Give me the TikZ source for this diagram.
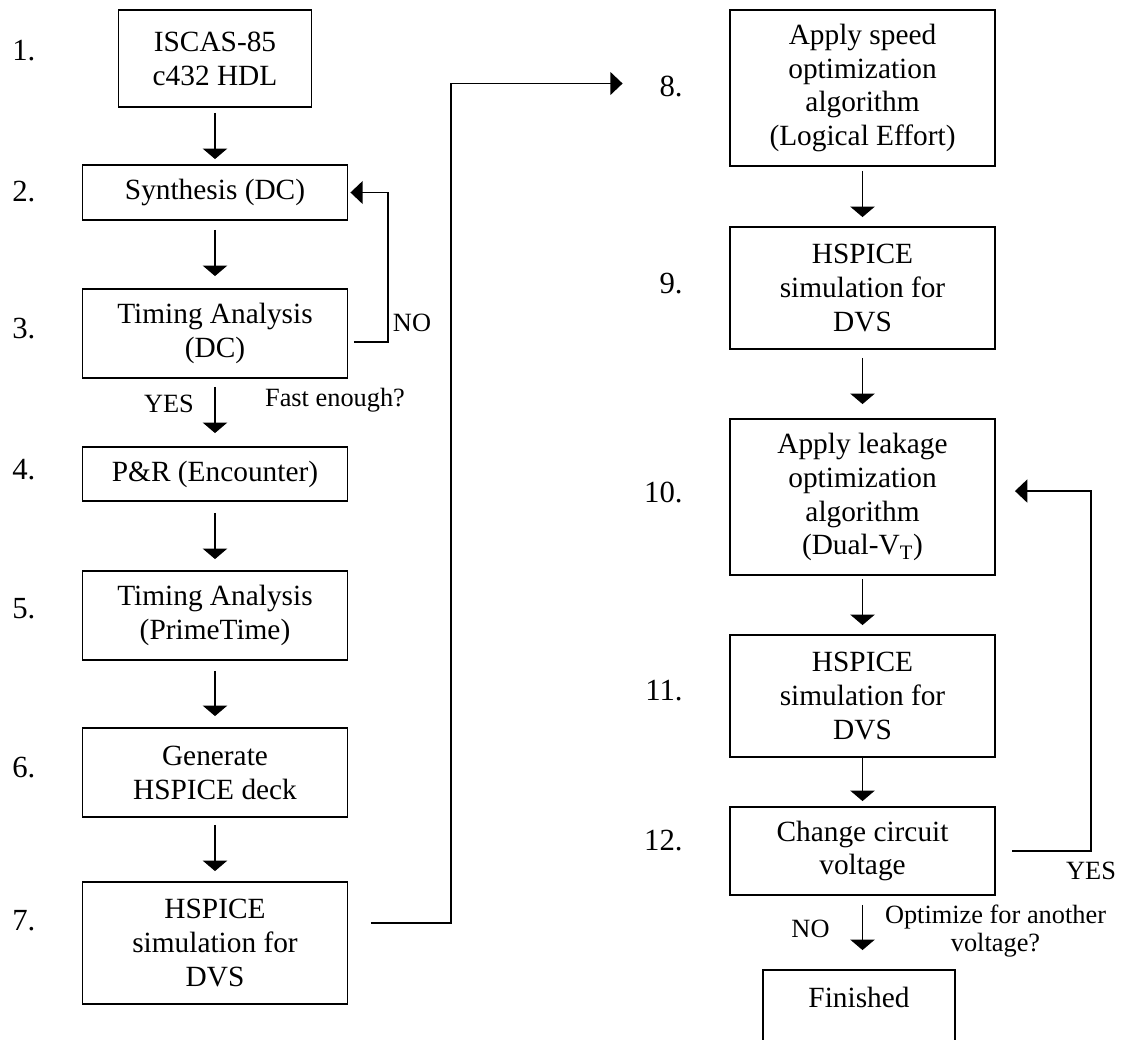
\documentclass[tikz,border=0pt]{standalone}
\usepackage{fontspec}
\setmainfont{Liberation Serif}
\usetikzlibrary{arrows.meta}

\begin{document}
\begin{tikzpicture}[x=0.02cm, y=-0.02cm,
    blok/.style={draw, line width=1.1pt, align=center, inner sep=0pt, font=\fontsize{16.7}{19.3}\selectfont},
    pijl/.style={-{Triangle[width=14pt,length=6pt]}, line width=0.6pt},
    lijn/.style={-{Triangle[width=13pt,length=7pt]}, line width=1.1pt},
    nummer/.style={inner sep=0pt, font=\fontsize{17.5}{20}\selectfont},
    tekst/.style={inner sep=0pt, align=center, font=\fontsize{15}{16}\selectfont}]
        \useasboundingbox (0,0) rectangle (1121,1039);
        \clip (0,0) rectangle (1121,1039);

        % Blocchi
        \node[blok, minimum width=3.86cm, minimum height=1.94cm] (S1) at (215,58.5) {ISCAS-85\\c432 HDL};
        \node[blok, minimum width=5.3cm, minimum height=1.1cm] (S2) at (215,192.5) {Synthesis (DC)};
        \node[blok, minimum width=5.3cm, minimum height=1.78cm] (S3) at (215,333.5) {Timing Analysis\\(DC)};
        \node[blok, minimum width=5.3cm, minimum height=1.08cm] (S4) at (215,474) {P\&R (Encounter)};
        \node[blok, minimum width=5.3cm, minimum height=1.78cm] (S5) at (215,615.5) {Timing Analysis\\(PrimeTime)};
        \node[blok, minimum width=5.3cm, minimum height=1.78cm] (S6) at (215,772.5) {Generate\\HSPICE deck};
        \node[blok, minimum width=5.3cm, minimum height=2.44cm] (S7) at (215,943) {HSPICE\\simulation for\\DVS};
        \node[blok, minimum width=5.3cm, minimum height=3.12cm] (S8) at (862.5,88) {Apply speed\\optimization\\algorithm\\(Logical Effort)};
        \node[blok, minimum width=5.3cm, minimum height=2.44cm] (S9) at (862.5,288) {HSPICE\\simulation for\\DVS};
        \node[blok, minimum width=5.3cm, minimum height=3.12cm] (S10) at (862.5,497) {Apply leakage\\optimization\\algorithm\\(Dual-V\textsubscript{T})};
        \node[blok, minimum width=5.3cm, minimum height=2.44cm] (S11) at (862.5,696) {HSPICE\\simulation for\\DVS};
        \node[blok, minimum width=5.3cm, minimum height=1.76cm] (S12) at (862.5,851) {Change circuit\\voltage};
        \node[blok, minimum width=3.84cm, minimum height=1.78cm] (F) at (859,1014.5) {Finished\\\mbox{}};

        % Numeri
        \node[nummer, anchor=west] (N1) at (12,50.5) {1.};
        \node[nummer, anchor=west] (N2) at (12,192) {2.};
        \node[nummer, anchor=west] (N3) at (12,329) {3.};
        \node[nummer, anchor=west] (N4) at (12,470) {4.};
        \node[nummer, anchor=west] (N5) at (12,609) {5.};
        \node[nummer, anchor=west] (N6) at (12,768) {6.};
        \node[nummer, anchor=west] (N7) at (12,921) {7.};
        \node[nummer, anchor=east] (N8) at (683,86) {8.};
        \node[nummer, anchor=east] (N9) at (683,284) {9.};
        \node[nummer, anchor=east] (N10) at (683,492.5) {10.};
        \node[nummer, anchor=east] (N11) at (683,691) {11.};
        \node[nummer, anchor=east] (N12) at (683,841) {12.};

        % Frecce
        \draw[pijl, shorten <=0.1cm, shorten >=0.1cm] (S1) -- (S2);
        \draw[pijl, shorten <=0.18cm, shorten >=0.24cm] (S2) -- (S3);
        \draw[pijl, shorten <=0.16cm, shorten >=0.26cm] (S3) -- (S4);
        \draw[pijl, shorten <=0.22cm, shorten >=0.22cm] (S4) -- (S5);
        \draw[pijl, shorten <=0.2cm, shorten >=0.22cm] (S5) -- (S6);
        \draw[pijl, shorten <=0.14cm, shorten >=0.2cm] (S6) -- (S7);
        \draw[pijl, shorten <=0.08cm, shorten >=0.18cm] (S8) -- (S9);
        \draw[pijl, shorten <=0.16cm, shorten >=0.28cm] (S9) -- (S10);
        \draw[pijl, shorten <=0.06cm, shorten >=0.18cm] (S10) -- (S11);
        \draw[pijl, shorten >=0.1cm] (S11) -- (S12);
        \draw[pijl, shorten <=0.18cm, shorten >=0.38cm] (S12) -- (S12 |- F.north);

        % Ritorni
        \coordinate (naar8) at (622.6,83.5);
        \draw[lijn, shorten <=0.11cm, shorten >=0.04cm] ([yshift=-4.8pt]S3.east) -- ++(40,0) |- (S2.east);
        \draw[lijn, shorten <=0.45cm] ([yshift=11.4pt]S7.east) -- ++(102.5,0) |- (naar8);
        \draw[lijn, shorten <=0.33cm, shorten >=0.38cm] (S12.east) -- ++(95,0) |- ([yshift=3.4pt]S10.east);

        % Scritte
        \node[tekst] (no1) at (412,323) {NO};
        \node[tekst] (si1) at (169,404) {YES};
        \node[tekst] (veloce) at (335,400) {Fast enough?};
        \node[tekst] (si2) at (1091,871) {YES};
        \node[tekst] (no2) at (810.5,929) {NO};
        \node[tekst] (altro) at (995.5,931) {Optimize for another\\voltage?};
    \end{tikzpicture}
\end{document}
